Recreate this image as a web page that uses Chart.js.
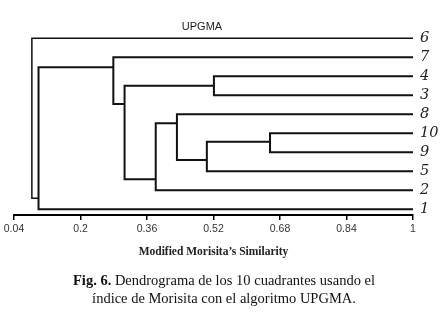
<!DOCTYPE html>
<html>
<head>
<meta charset="utf-8">
<script src="https://cdn.jsdelivr.net/npm/chart.js@4"></script>
<style>
  body { margin: 0; background: #fff; }
</style>
</head>
<body>
<canvas id="dendro" width="443" height="316"></canvas>
<script>
var leafLabels = ['6', '7', '4', '3', '8', '10', '9', '5', '2', '1'];
var tickValues = [0.04, 0.2, 0.36, 0.52, 0.68, 0.84, 1];

// each merge: similarity, the two children (L = leaf row, N = earlier node), row where it joins its parent
var nodeSimilarity = [0.656, 0.521, 0.504, 0.432, 0.381, 0.306, 0.279, 0.099, 0.083];
var nodeChildren = [['L5', 'L6'], ['L2', 'L3'], ['N0', 'L7'], ['L4', 'N2'], ['N3', 'L8'],
                    ['N1', 'N4'], ['L1', 'N5'], ['N6', 'L9'], ['L0', 'N7']];
var nodeJoinRow = [5.45, 2.5, 6.4, 4.47, 7.42, 3.46, 1.53, 8.42, null];

function childPos(c) {
  var i = parseInt(c.slice(1));
  if (c[0] == 'L')
    return { sim: 1, row: i };
  return { sim: nodeSimilarity[i], row: nodeJoinRow[i] };
}

var datasets = [];
for (var i = 0; i < nodeSimilarity.length; i++) {
  var a = childPos(nodeChildren[i][0]);
  var b = childPos(nodeChildren[i][1]);
  var s = nodeSimilarity[i];
  datasets.push({
    data: [{ x: a.sim, y: a.row }, { x: s, y: a.row }, { x: s, y: b.row }, { x: b.sim, y: b.row }],
    showLine: true,
    borderColor: '#111',
    borderWidth: i == 8 ? 1.5 : 2,
    pointRadius: 0,
    fill: false,
    clip: false
  });
}

// header and caption text
var textPlugin = {
  id: 'texts',
  afterDraw: function (chart) {
    var ctx = chart.ctx;
    ctx.save();
    ctx.fillStyle = '#222';
    ctx.textBaseline = 'middle';
    ctx.textAlign = 'center';
    ctx.font = '11px "Liberation Sans"';
    ctx.fillText('UPGMA', 202, 27);

    ctx.textAlign = 'left';
    var bold = 'bold 14.5px "Liberation Serif"';
    var reg = '14.5px "Liberation Serif"';
    var p1 = 'Fig. 6.';
    var p2 = ' Dendrograma de los 10 cuadrantes usando el';
    ctx.font = bold;
    var w1 = ctx.measureText(p1).width;
    ctx.font = reg;
    var w2 = ctx.measureText(p2).width;
    var x0 = 224 - (w1 + w2) / 2;
    ctx.fillStyle = '#111';
    ctx.font = bold;
    ctx.fillText(p1, x0, 281);
    ctx.font = reg;
    ctx.fillText(p2, x0 + w1, 281);
    ctx.textAlign = 'center';
    ctx.fillText('índice de Morisita con el algoritmo UPGMA.', 224, 299);
    ctx.restore();
  }
};

new Chart(document.getElementById('dendro'), {
  type: 'scatter',
  data: { datasets: datasets },
  plugins: [textPlugin],
  options: {
    responsive: false,
    animation: false,
    devicePixelRatio: 1,
    layout: { padding: { left: 14, right: 0, top: 38.3, bottom: 57 } },
    plugins: { legend: { display: false }, tooltip: { enabled: false } },
    scales: {
      x: {
        type: 'linear',
        min: 0.04,
        max: 1,
        afterBuildTicks: function (scale) {
          scale.ticks = tickValues.map(function (v) { return { value: v }; });
        },
        afterFit: function (scale) { scale.height = 44; },
        ticks: {
          callback: function (v) { return String(v); },
          font: { family: 'Liberation Sans', size: 10.5 },
          color: '#333',
          padding: 3,
          maxRotation: 0,
          autoSkip: false
        },
        grid: { display: true, drawOnChartArea: false, drawTicks: true, tickLength: 5, color: '#000', lineWidth: 1.5 },
        border: { display: true, color: '#000', width: 2 },
        title: {
          display: true,
          text: 'Modified Morisita’s Similarity',
          font: { family: 'Liberation Serif', size: 11.5, weight: 'bold' },
          color: '#222',
          padding: 0
        }
      },
      y: {
        type: 'linear',
        position: 'right',
        reverse: true,
        min: 0,
        max: 9.3,
        afterBuildTicks: function (scale) {
          scale.ticks = leafLabels.map(function (l, i) { return { value: i }; });
        },
        afterFit: function (scale) { scale.width = 30; },
        ticks: {
          callback: function (v) { return leafLabels[v]; },
          font: { family: 'DejaVu Serif', size: 14.5, style: 'italic' },
          color: '#222',
          padding: 7,
          autoSkip: false
        },
        grid: { display: false, drawTicks: false },
        border: { display: false }
      }
    }
  }
});
</script>
</body>
</html>
